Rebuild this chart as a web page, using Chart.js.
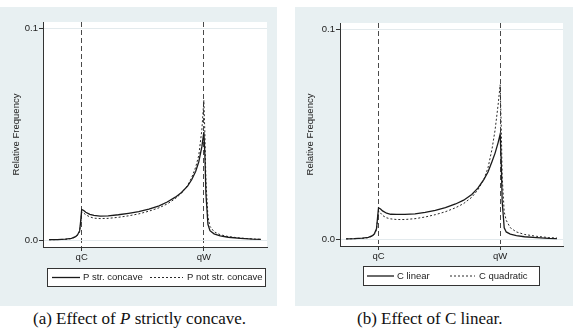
<!DOCTYPE html>
<html><head><meta charset="utf-8">
<script src="https://cdn.jsdelivr.net/npm/chart.js@4/dist/chart.umd.min.js"></script>
<style>
body{margin:0;width:574px;height:331px;background:#fff;position:relative;overflow:hidden;font-family:"Liberation Sans",Arial,sans-serif}
.panel{position:absolute;top:7px;height:299px;background:#e8f0f2}
.panel canvas{display:block}
.cap{position:absolute;top:309px;font-family:"Liberation Serif",serif;font-size:17px;color:#111;white-space:nowrap}
</style></head><body>
<div class="panel" style="left:0;width:277px"><canvas id="c1" width="277" height="299"></canvas></div>
<div class="panel" style="left:295px;width:278px"><canvas id="c2" width="278" height="299"></canvas></div>
<div class="cap" style="left:33px">(a) Effect of <i>P</i> strictly concave.</div>
<div class="cap" style="left:357px">(b) Effect of C linear.</div>
<script>
// ---- data ----
const q = [4, 8, 12, 15, 17, 18, 19, 19.5, 20, 21, 22, 24, 26, 29, 33, 38, 43, 48, 53, 58, 62, 66, 69, 72, 74, 76, 77.5, 79, 80, 80.5, 81, 82, 83, 85, 88, 92, 98, 104, 108];
const pStrConcave = [0.0003,0.0003,0.0005,0.0009,0.0017,0.0026,0.0045,0.009,0.0145,0.0140,0.0132,0.0122,0.0117,0.0114,0.0115,0.0120,0.0127,0.0135,0.0147,0.0162,0.0180,0.0203,0.0225,0.0255,0.0285,0.0325,0.037,0.044,0.051,0.040,0.022,0.0075,0.0045,0.003,0.002,0.0014,0.0009,0.0005,0.0004];
const pNotStrConcave = [0.0002,0.0003,0.0004,0.0008,0.0015,0.0023,0.004,0.008,0.0133,0.0128,0.0120,0.0110,0.0104,0.0102,0.0103,0.0108,0.0115,0.0124,0.0137,0.0153,0.0171,0.0196,0.0222,0.0258,0.0295,0.0345,0.040,0.052,0.066,0.050,0.028,0.011,0.0065,0.004,0.0026,0.0017,0.001,0.0006,0.0004];
const cLinear = [0.0002,0.0003,0.0005,0.0009,0.0017,0.0027,0.005,0.010,0.015,0.0144,0.0135,0.0124,0.0119,0.0118,0.0118,0.0121,0.0128,0.0138,0.0151,0.0168,0.0186,0.0213,0.0243,0.0285,0.032,0.037,0.041,0.046,0.050,0.038,0.018,0.0055,0.0035,0.0025,0.0017,0.0012,0.0008,0.0004,0.0003];
const cQuadratic = [0.0002,0.0003,0.0004,0.0008,0.0015,0.0024,0.0045,0.009,0.0135,0.0125,0.0113,0.0102,0.0097,0.0094,0.0094,0.0098,0.0106,0.0117,0.0131,0.0150,0.0170,0.0200,0.0235,0.0285,0.034,0.043,0.052,0.064,0.0735,0.055,0.03,0.013,0.009,0.0055,0.0035,0.0023,0.0014,0.0008,0.0006];
const xTickValues = [20, 80];
const xTickLabels = ['qC', 'qW'];
const yTickValues = [0, 0.1];
const yTickLabels = ['0.0', '0.1'];
const legendA = ['P str. concave', 'P not str. concave'];
const legendB = ['C linear', 'C quadratic'];
const yTitle = 'Relative Frequency';

const FONT = {family: '"Liberation Sans", Arial, sans-serif', size: 9.5};
const TXT = '#222';

const boxPlugin = {
  id: 'stataBox',
  beforeDraw(chart) {
    const {ctx, chartArea: a} = chart;
    ctx.save();
    ctx.fillStyle = '#ffffff';
    ctx.fillRect(a.left, a.top, a.right - a.left, a.bottom - a.top);
    ctx.restore();
  },
  afterDraw(chart, args, opts) {
    const {ctx} = chart;
    const L = opts.box;
    ctx.save();
    ctx.fillStyle = '#ffffff';
    ctx.fillRect(L.x, L.y, L.w, L.h);
    ctx.strokeStyle = '#333';
    ctx.lineWidth = 1;
    ctx.strokeRect(L.x + 0.5, L.y + 0.5, L.w, L.h);
    const cy = L.y + L.h / 2 + 0.5;
    chart.data.datasets.forEach((ds, i) => {
      const it = opts.items[i];
      ctx.strokeStyle = ds.borderColor;
      ctx.lineWidth = ds.borderWidth;
      ctx.setLineDash(ds.borderDash || []);
      ctx.beginPath();
      ctx.moveTo(it.x0, cy);
      ctx.lineTo(it.x1, cy);
      ctx.stroke();
      ctx.setLineDash([]);
      ctx.fillStyle = TXT;
      ctx.font = FONT.size + 'px ' + FONT.family;
      ctx.textBaseline = 'middle';
      ctx.textAlign = 'left';
      ctx.fillText(ds.label, it.tx, cy);
    });
    ctx.restore();
  }
};

function makeChart(id, s1, s2, labels, geo) {
  const pts = arr => q.map((x, i) => ({x: x, y: arr[i]}));
  return new Chart(document.getElementById(id), {
    type: 'line',
    data: {
      datasets: [
        {label: labels[0], data: pts(s1), borderColor: '#1a1a1a', borderWidth: 1.3, pointRadius: 0, tension: 0, fill: false},
        {label: labels[1], data: pts(s2), borderColor: '#2a2a2a', borderWidth: 1, borderDash: [2, 2], pointRadius: 0, tension: 0, fill: false}
      ]
    },
    options: {
      responsive: false,
      animation: false,
      devicePixelRatio: 1,
      layout: {padding: {top: geo.top, right: geo.right, left: 0, bottom: 0}},
      plugins: {
        legend: {display: false},
        tooltip: {enabled: false},
        stataBox: {box: geo.box, items: geo.items}
      },
      scales: {
        x: {
          type: 'linear', min: 1, max: 111,
          afterBuildTicks: s => { s.ticks = xTickValues.map(v => ({value: v})); },
          afterFit: s => { s.height = geo.xh; },
          ticks: {
            callback: v => xTickLabels[xTickValues.indexOf(v)],
            font: FONT, color: TXT, padding: 1, maxRotation: 0, autoSkip: false
          },
          grid: {color: '#4a4a4a', lineWidth: 1, tickLength: 4, tickColor: '#333', tickBorderDash: []},
          border: {display: true, color: '#333', width: 1, dash: [5, 3]}
        },
        y: {
          type: 'linear', min: -0.0032, max: 0.1029,
          afterBuildTicks: s => { s.ticks = yTickValues.map(v => ({value: v})); },
          afterFit: s => { s.width = geo.yw; },
          ticks: {
            callback: v => yTickLabels[yTickValues.indexOf(v)],
            font: FONT, color: TXT, padding: 1, autoSkip: false
          },
          grid: {color: '#e3eaed', lineWidth: 1, tickLength: 4, tickColor: '#333'},
          border: {display: true, color: '#333', width: 1},
          title: {display: true, text: yTitle, font: FONT, color: TXT, padding: {top: geo.tp, bottom: 0}}
        }
      }
    },
    plugins: [boxPlugin]
  });
}

makeChart('c1', pStrConcave, pNotStrConcave, legendA, {
  top: 15, right: 10, xh: 59, yw: 43, tp: 10.5,
  box: {x: 47, y: 261, w: 218, h: 18},
  items: [{x0: 52, x1: 80, tx: 83}, {x0: 150, x1: 183, tx: 187}]
});
makeChart('c2', cLinear, cQuadratic, legendB, {
  top: 16, right: 10, xh: 60, yw: 45, tp: 10,
  box: {x: 68, y: 259, w: 176, h: 19},
  items: [{x0: 72, x1: 99, tx: 102}, {x0: 155, x1: 180, tx: 184}]
});
</script>
</body></html>
